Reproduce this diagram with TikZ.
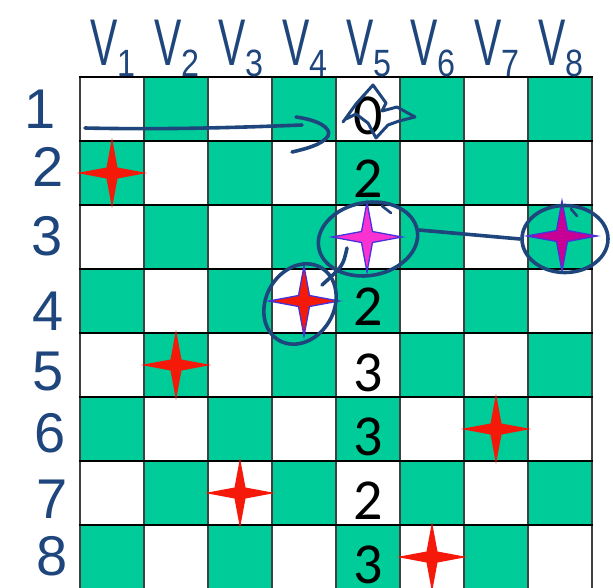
\documentclass[tikz,border=0pt]{standalone}
\usepackage{fontspec}
\setmainfont{Carlito}
\newfontfamily\handfont{Liberation Sans}
\usetikzlibrary{shapes.geometric}
\definecolor{boardgreen}{RGB}{0,204,153}
\definecolor{starred}{RGB}{245,25,10}
\definecolor{starmag}{RGB}{250,50,210}
\definecolor{starpurple}{RGB}{200,0,150}
\definecolor{starblue}{RGB}{70,50,220}
\definecolor{inkblue}{RGB}{30,70,125}
\tikzset{
  star4/.pic={\path[pic actions] (35,0) -- (5.5,5.5) -- (0,35) -- (-5.5,5.5) -- (-35,0) -- (-5.5,-5.5) -- (0,-35) -- (5.5,-5.5) -- cycle;},
  redstar/.style={fill=starred},
  bluerim/.style={draw=starblue, line width=1.3pt, line join=miter},
  hline/.style={draw=black, line width=1.8pt},
  vline/.style={draw=black!75, line width=1.5pt},
  num/.style={anchor=base, inner sep=0pt, font=\fontsize{58}{58}\selectfont},
  vlab/.style={anchor=base, inner sep=0pt, text=inkblue, font=\handfont\fontsize{66}{66}\selectfont},
  rlab/.style={anchor=base, inner sep=0pt, text=inkblue, font=\handfont\fontsize{56}{56}\selectfont},
  annot/.style={draw=inkblue, line width=3.6pt, line cap=round, line join=round},
  ell/.style={ellipse, draw=inkblue, line width=3.6pt, inner sep=0pt},
}
\newcommand{\vsub}[1]{\scalebox{0.62}[1]{V}\raisebox{-11pt}{\fontsize{38}{38}\selectfont\scalebox{0.85}[1]{#1}}}
\begin{document}
\begin{tikzpicture}[x=1pt,y=-1pt]
\useasboundingbox (0,0) rectangle (613,587);
\begin{scope}
\clip (0,0) rectangle (613,587);
\foreach \r in {1,...,8}{
  \foreach \c in {1,...,8}{
    \pgfmathtruncatemacro{\parity}{mod(\r+\c,2)}
    \ifnum\parity=1
      \fill[boardgreen] ({80+64*(\c-1)},{77+64*(\r-1)}) rectangle ++(64,64);
    \fi
  }
}
\foreach \k in {0,...,8}{
  \draw[vline] ({80+64*\k},77) -- ({80+64*\k},592);
}
\foreach \k in {0,...,8}{
  \draw[hline] (79,{77+64*\k}) -- (593,{77+64*\k});
}
\end{scope}

% column labels
\foreach \c in {1,...,8}{
  \node[vlab] (v\c) at ({113+64*(\c-1)},65) {\vsub{\c}};
}
% row labels
\node[rlab] (r1) at (40,128) {1};
\node[rlab] (r2) at (48,186) {2};
\node[rlab] (r3) at (47,255) {3};
\node[rlab] (r4) at (48,330) {4};
\node[rlab] (r5) at (48,390) {5};
\node[rlab] (r6) at (50,452) {6};
\node[rlab] (r7) at (52,518) {7};
\node[rlab] (r8) at (52,575) {8};

% numbers in column V5
\node[num] (n1) at (368,134) {0};
\node[num] (n2) at (368,197) {2};
\node[num] (n4) at (368,325) {2};
\node[num] (n5) at (368,391) {3};
\node[num] (n6) at (368,455) {3};
\node[num] (n7) at (368,519) {2};
\node[num] (n8) at (368,583) {3};

% stars
\pic[redstar] (q1) at (112,173) {star4};
\pic[redstar] (q5) at (176,365) {star4};
\pic[redstar] (q6) at (496,429) {star4};
\pic[redstar] (q7) at (240,493) {star4};
\pic[redstar] (q8) at (432,557) {star4};
\pic[redstar, bluerim] (q4) at (304,301) {star4};
\pic[fill=starmag, bluerim] (q3) at (367,237) {star4};
\pic[fill=starpurple, bluerim] (q3b) at (562,236) {star4};

% handwritten annotations
\draw[annot] (85,128) .. controls (170,130) and (250,127) .. (302,125);
\draw[annot] (296,117) .. controls (318,120) and (332,128) .. (328,136) .. controls (322,145) and (305,149) .. (292,152);
\draw[annot, line width=3pt] (343,122) -- (356,104) -- (373,85) -- (386,103) -- (382,111) -- (397,107) -- (415,117) -- (399,121) -- (388,125) -- (376,138) -- (368,123) -- (356,114) -- (346,119);

\node[ell, minimum width=100pt, minimum height=73pt, rotate=10] (e1) at (368,239) {};
\node[ell, minimum width=86pt, minimum height=67pt] (e2) at (565,239) {};
\node[ell, minimum width=84pt, minimum height=68pt, rotate=60] (e3) at (300,304) {};
\draw[annot] (e1.east) -- (e2.west);
\coordinate (c1) at (347,248);
\coordinate (c2) at (322,285);
\draw[annot] (c1) .. controls (343,266) .. (c2);
\coordinate (t1) at (382,206);
\coordinate (t2) at (391,213);
\draw[annot, line width=2.6pt] (t1) -- (t2);
\coordinate (t3) at (571,209);
\coordinate (t4) at (577,216);
\draw[annot, line width=2.6pt] (t3) -- (t4);
\end{tikzpicture}
\end{document}
